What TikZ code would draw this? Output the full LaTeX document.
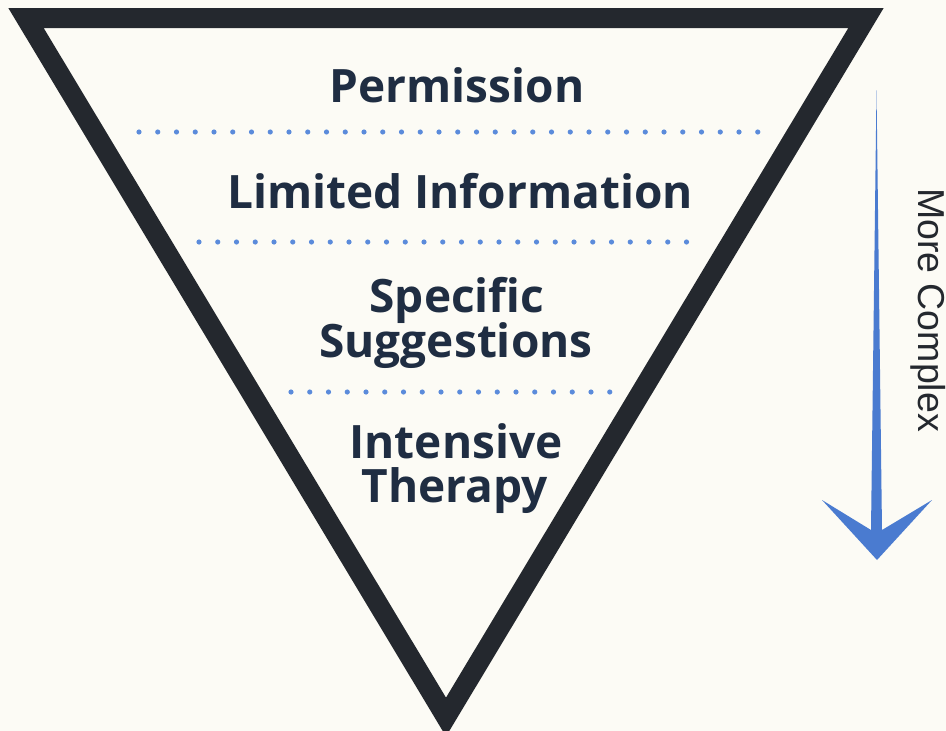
\documentclass[tikz,border=0pt]{standalone}
\usepackage{fontspec}
\setmainfont{Open Sans}
\newfontfamily\sidefont{Liberation Sans}
\definecolor{bgc}{HTML}{FCFBF5}
\definecolor{framec}{HTML}{24282E}
\definecolor{textc}{HTML}{1F2D42}
\definecolor{dotc}{HTML}{5B8BDB}
\definecolor{arrowc}{HTML}{4A7BD0}
\tikzset{
  label/.style={font=\fontsize{46}{45}\selectfont\bfseries, text=textc, align=center, inner sep=0pt},
  dotmark/.style={fill=dotc, draw=none},
  framestyle/.style={draw=framec, line width=20pt, line join=miter},
}
\begin{document}
\begin{tikzpicture}[x=1pt,y=-1pt]
\useasboundingbox (0,0) rectangle (946,731);
\fill[bgc] (0,0) rectangle (946,731);
\begin{scope}
\clip (0,0) rectangle (946,731);
\draw[framestyle] (26,18) -- (866,18) -- (446,717) -- cycle;
\end{scope}
% dotted separators
\foreach \i in {0,...,33} {\fill[dotmark] (139+\i*18.75,132) circle (2.6);}
\foreach \i in {0,...,26} {\fill[dotmark] (199+\i*18.75,242) circle (2.6);}
\foreach \i in {0,...,17} {\fill[dotmark] (291+\i*18.75,392) circle (2.6);}
% labels
\node[label, anchor=base] (perm) at (457,102) {Permission};
\node[label, anchor=base] (limit) at (460,208) {Limited Information};
\node[label, anchor=base] (spec) at (457,312) {Specific};
\node[label, anchor=base] (sugg) at (456,357) {Suggestions};
\node[label, anchor=base] (inten) at (456,458) {Intensive};
\node[label, anchor=base] (ther) at (455,502) {Therapy};
% arrow
\fill[arrowc] (876.5,90) -- (882,530) -- (932,500) -- (877,560) -- (822,500) -- (871,530) -- cycle;
\node[font=\sidefont\fontsize{37.5}{40}\selectfont, text=framec, rotate=-90, anchor=base, inner sep=0pt] (side) at (918,310) {More Complex};
\end{tikzpicture}
\end{document}
